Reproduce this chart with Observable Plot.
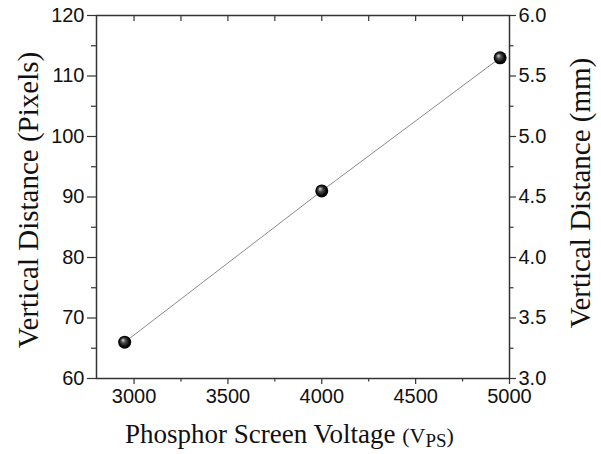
<!DOCTYPE html>
<html>
<head>
<meta charset="utf-8">
<script src="https://cdn.jsdelivr.net/npm/d3@7"></script>
<script src="https://cdn.jsdelivr.net/npm/@observablehq/plot@0.6"></script>
<style>
  html, body { margin: 0; padding: 0; background: #fff; }
  #chart { width: 601px; height: 454px; }
</style>
</head>
<body>
<div id="chart"></div>
<script>
// Data
const voltage = [2950, 4000, 4950];          // Phosphor Screen Voltage (V)
const distancePixels = [66, 91, 113];        // Vertical distance (pixels)

// Axis ticks
const xMajorTicks = [3000, 3500, 4000, 4500, 5000];
const xMinorTicks = [3250, 3750, 4250, 4750];
const xTopTicks = [3000, 3250, 3500, 3750, 4000, 4250, 4500, 4750];
const yMajorTicks = [60, 70, 80, 90, 100, 110, 120];
const yMinorTicks = [65, 75, 85, 95, 105, 115];
const pixelsPerMm = 20; // right axis: mm = pixels / 20

const data = voltage.map((v, i) => ({v, px: distancePixels[i]}));

const axisColor = "#333";
const tickFont = 20;
const plot = Plot.plot({
  width: 601,
  height: 454,
  marginTop: 15,
  marginRight: 92,
  marginBottom: 76,
  marginLeft: 96,
  style: {fontFamily: "'Liberation Sans', Arial, sans-serif", fontSize: "20px", color: "#111", background: "#fff"},
  x: {domain: [2800, 5000]},
  y: {domain: [60, 120]},
  marks: [
    Plot.line(data, {x: "v", y: "px", stroke: "#8a8a8a", strokeWidth: 1}),
    Plot.dot(data, {x: "v", y: "px", r: 6.5, fill: "url(#sphere)", stroke: "none"}),
    // bottom axis
    Plot.axisX({anchor: "bottom", ticks: xMajorTicks, tickSize: 6, tickPadding: 4, fontSize: tickFont, tickFormat: d => String(d), label: null, stroke: axisColor, strokeWidth: 1.2, fill: "#111"}),
    Plot.axisX({anchor: "bottom", ticks: xMinorTicks, tickSize: 3.5, tickFormat: () => "", label: null, stroke: axisColor, strokeWidth: 1.2}),
    // top inward ticks
    Plot.axisX({anchor: "top", ticks: xTopTicks, tickSize: -5, tickFormat: () => "", label: null, stroke: axisColor, strokeWidth: 1.2}),
    // left axis
    Plot.axisY({anchor: "left", ticks: yMajorTicks, tickSize: 9, tickPadding: 3, fontSize: tickFont, tickFormat: d => String(d), label: null, stroke: axisColor, strokeWidth: 1.2, fill: "#111"}),
    Plot.axisY({anchor: "left", ticks: yMinorTicks, tickSize: 5, tickFormat: () => "", label: null, stroke: axisColor, strokeWidth: 1.2}),
    // right axis (mm)
    Plot.axisY({anchor: "right", ticks: yMajorTicks, tickSize: 6, tickPadding: 3, fontSize: tickFont, tickFormat: d => (d / pixelsPerMm).toFixed(1), label: null, stroke: axisColor, strokeWidth: 1.2, fill: "#111"}),
    Plot.axisY({anchor: "right", ticks: yMinorTicks, tickSize: 3.5, tickFormat: () => "", label: null, stroke: axisColor, strokeWidth: 1.2}),
    Plot.frame({stroke: axisColor, strokeWidth: 1.5})
  ]
});

document.getElementById("chart").appendChild(plot);

const svg = d3.select(plot);
const defs = svg.insert("defs", ":first-child");
const grad = defs.append("radialGradient")
  .attr("id", "sphere").attr("cx", "0.5").attr("cy", "0.5").attr("r", "0.5")
  .attr("fx", "0.35").attr("fy", "0.32");
grad.append("stop").attr("offset", "0").attr("stop-color", "#d8d8d8");
grad.append("stop").attr("offset", "0.35").attr("stop-color", "#505050");
grad.append("stop").attr("offset", "0.75").attr("stop-color", "#0a0a0a");
grad.append("stop").attr("offset", "1").attr("stop-color", "#000");

const serif = "'Liberation Serif', 'Times New Roman', serif";
// X title
const xt = svg.append("text")
  .attr("x", 125).attr("y", 443)
  .attr("text-anchor", "start")
  .attr("font-family", serif).attr("font-size", 27).attr("fill", "#111");
xt.append("tspan").text("Phosphor Screen Voltage ");
xt.append("tspan").attr("font-size", 22).text("(V");
xt.append("tspan").attr("font-size", 19).attr("dy", 4).text("PS");
xt.append("tspan").attr("font-size", 22).attr("dy", -4).text(")");

// Left Y title
svg.append("text")
  .attr("transform", "translate(38,200) rotate(-90)")
  .attr("text-anchor", "middle")
  .attr("font-family", serif).attr("font-size", 29).attr("fill", "#111")
  .text("Vertical Distance (Pixels)");

// Right Y title
svg.append("text")
  .attr("transform", "translate(590,193) rotate(-90)")
  .attr("text-anchor", "middle")
  .attr("font-family", serif).attr("font-size", 29).attr("fill", "#111")
  .text("Vertical Distance (mm)");
</script>
</body>
</html>
